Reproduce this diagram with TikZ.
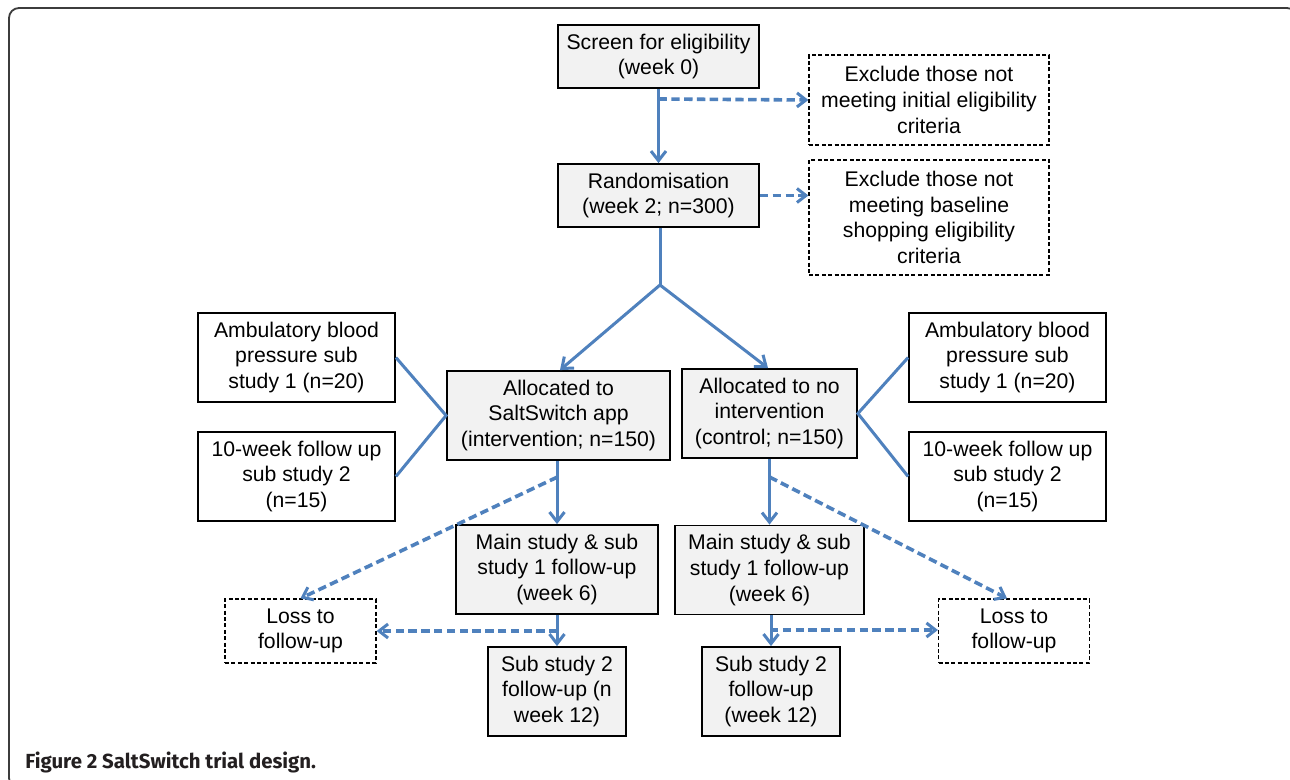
\documentclass[tikz,border=0pt]{standalone}
\usepackage{fontspec}
\setmainfont{Liberation Sans}
\newfontfamily\capfont{Fira Sans}
\usetikzlibrary{arrows.meta,calc}
\definecolor{flowblue}{RGB}{79,129,189}
\definecolor{boxgray}{RGB}{242,242,242}
\definecolor{framegray}{RGB}{60,60,60}
\definecolor{captext}{RGB}{35,31,32}
\tikzset{
  txt/.style={font=\fontsize{10.6}{12.85}\selectfont, align=center, inner sep=0pt},
  gbox/.style={txt, draw=black, line width=0.9pt, fill=boxgray},
  wbox/.style={txt, draw=black, line width=0.9pt, fill=white},
  dbox/.style={txt, draw=black, line width=0.6pt, dash pattern=on 2pt off 1.2pt, fill=white},
  sz/.style 2 args={minimum width=#1*0.5pt, minimum height=#2*0.5pt},
  flow/.style={draw=flowblue, line width=1.5pt},
  flowarr/.style={flow, -{Straight Barb[length=4.8pt,width=7.5pt,line width=1.5pt]}},
  dflowarr/.style={draw=flowblue, line width=1.8pt, dash pattern=on 4.2pt off 2.2pt,
    -{Straight Barb[length=4.5pt,width=7pt,line width=1.5pt]}},
}
\begin{document}
\begin{tikzpicture}[x=0.5pt,y=-0.5pt]
\useasboundingbox (0,0) rectangle (1290,780);
\clip (0,0) rectangle (1290,780);
\fill[white] (0,0) rectangle (1290,780);
% frame
\draw[framegray, line width=0.9pt, rounded corners=5pt] (9,8) rectangle (1297,788);
% nodes
\node[gbox, sz={201}{63}] (screen) at (658.5,56.5) {Screen for eligibility\\(week 0)};
\node[gbox, sz={201}{63}] (rand) at (658.5,195.5) {Randomisation\\(week 2; n=300)};
\node[dbox, sz={240}{90}] (ex1) at (929,100) {Exclude those not\\meeting initial eligibility\\criteria};
\node[dbox, sz={240}{115}] (ex2) at (929,217.5) {Exclude those not\\meeting baseline\\shopping eligibility\\criteria};
\node[gbox, sz={223}{89}] (allocL) at (558.5,415.5) {Allocated to\\SaltSwitch app\\(intervention; n=150)};
\node[gbox, sz={175}{89}] (allocR) at (769.5,413.5) {Allocated to no\\intervention\\(control; n=150)};
\node[wbox, sz={197}{89}] (ambL) at (296.5,357.5) {Ambulatory blood\\pressure sub\\study 1 (n=20)};
\node[wbox, sz={197}{89}] (tenL) at (296.5,476.5) {10-week follow up\\sub study 2\\(n=15)};
\node[wbox, sz={197}{89}] (ambR) at (1007.5,357.5) {Ambulatory blood\\pressure sub\\study 1 (n=20)};
\node[wbox, sz={197}{89}] (tenR) at (1007.5,476.5) {10-week follow up\\sub study 2\\(n=15)};
\node[gbox, sz={202}{89}] (mainL) at (557,569.5) {Main study \& sub\\study 1 follow-up\\(week 6)};
\node[gbox, sz={189}{89}] (mainR) at (769.5,570) {Main study \& sub\\study 1 follow-up\\(week 6)};
\node[gbox, sz={138}{89}] (subL) at (557,691.5) {Sub study 2\\follow-up (n\\week 12)};
\node[gbox, sz={138}{89}] (subR) at (771,691.5) {Sub study 2\\follow-up\\(week 12)};
\node[dbox, sz={151}{64}] (lossL) at (300.5,631) {Loss to\\follow-up};
\node[dbox, sz={151}{64}] (lossR) at (1014,631) {Loss to\\follow-up};
\node[anchor=base west, inner sep=0pt, text=captext, font=\capfont\bfseries\fontsize{10.2}{12}\selectfont] (cap) at (25,768) {Figure 2 SaltSwitch trial design.};
% junction coordinates
\coordinate (j1) at (658.5,99);
\coordinate (split) at (660,285);
\coordinate (dL) at (557.5,477);
\coordinate (dR) at (769.5,477);
\coordinate (hL) at (557.5,631);
\coordinate (hR) at (770,630);
% connectors
\draw[flowarr] (screen.south) -- (rand.north);
\draw[dflowarr] (j1) -- (ex1.west);
\draw[dflowarr] (rand.east) -- (rand.east -| ex2.west);
\draw[flow] (rand.south -| split) -- (split);
\draw[flowarr] (split) -- ($(allocL.north)+(1.5,0)$);
\draw[flowarr] (split) -- ($(allocR.north)+(-1.5,0)$);
\draw[flow] (ambL.east) -- (allocL.west) -- (tenL.east);
\draw[flow] (ambR.west) -- (allocR.east) -- (tenR.west);
\draw[flowarr] (allocL.south -| mainL.north) -- (mainL.north);
\draw[flowarr] (allocR.south) -- (mainR.north);
\draw[flowarr] (mainL.south) -- (subL.north);
\draw[flowarr] (mainR.south -| subR.north) -- (subR.north);
\draw[dflowarr] (dL) -- (lossL.north);
\draw[dflowarr] (dR) -- ($(lossR.north)+(-7,0)$);
\draw[dflowarr] (hL) -- (lossL.east);
\draw[dflowarr] (hR) -- (hR -| lossR.west);
\end{tikzpicture}
\end{document}
